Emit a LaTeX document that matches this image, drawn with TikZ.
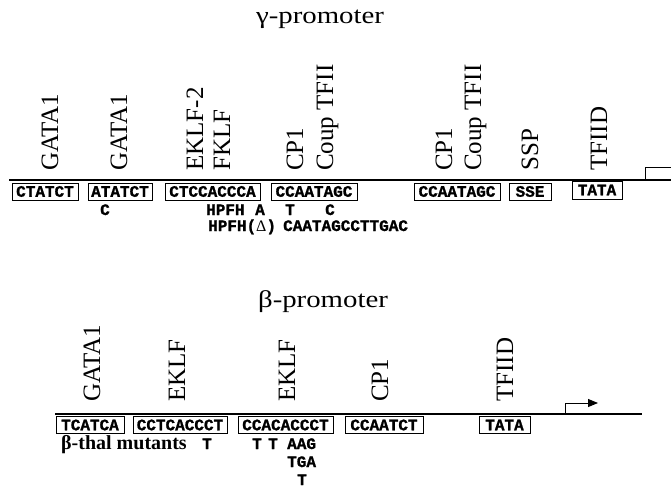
\documentclass[tikz,border=0pt]{standalone}
\usepackage{fontspec}
\setmainfont{Liberation Serif}
\setmonofont{Liberation Mono}[BoldFeatures={FakeBold=1.2}]
\usetikzlibrary{arrows.meta}

\begin{document}
\begin{tikzpicture}[x=1pt, y=-1pt,
    heading/.style={anchor=base, inner sep=0pt, font=\fontsize{24}{24}\selectfont},
    factor/.style={rotate=90, anchor=base west, inner sep=0pt, font=\fontsize{25}{25}\selectfont},
    seqbox/.style={draw, line width=0.8pt, inner sep=0pt, minimum height=17pt, font=\fontsize{16}{16}\selectfont\ttfamily\bfseries},
    mutant/.style={anchor=base west, inner sep=0pt, font=\fontsize{16}{16}\selectfont\ttfamily\bfseries},
    dna/.style={line width=2.5pt},
    tss/.style={line width=1pt}
]
\useasboundingbox (0,0) rectangle (671,489);

% gamma promoter
\node[heading] (g-title) at (320,24) {\scalebox{1.2}[1]{γ-promoter}};
\coordinate (g-start) at (9,180);
\coordinate (g-end) at (671,180);
\coordinate (g-tss) at (645,180);
\coordinate (g-tss-end) at (671,168);

% gamma factors
\node[factor] (g-gata1a) at (58,171) {GATA1};
\node[factor] (g-gata1b) at (127,171) {GATA1};
\node[factor] (g-eklf2) at (203,171) {EKLF-2};
\node[factor] (g-fklf) at (230,171) {FKLF};
\node[factor] (g-cp1a) at (303,171) {CP1};
\node[factor] (g-coupa) at (333,171) {Coup TFII};
\node[factor] (g-cp1b) at (452,171) {CP1};
\node[factor] (g-coupb) at (481,171) {Coup TFII};
\node[factor] (g-ssp) at (538,171) {SSP};
\node[factor] (g-tfiid) at (607,171) {TFIID};

% gamma sites
\node[seqbox, minimum width=66pt] (g-site1) at (45,191.5) {CTATCT};
\node[seqbox, minimum width=64pt] (g-site2) at (120,191.5) {ATATCT};
\node[seqbox, minimum width=95pt] (g-site3) at (212.5,191.5) {CTCCACCCA};
\node[seqbox, minimum width=86pt] (g-site4) at (314,191.5) {CCAATAGC};
\node[seqbox, minimum width=86pt] (g-site5) at (457,191.5) {CCAATAGC};
\node[seqbox, minimum width=42pt] (g-site6) at (530,191.5) {SSE};
\node[seqbox, minimum width=50pt, minimum height=18pt] (g-tata) at (597,190) {TATA};

% gamma mutants
\node[mutant] (g-mut1) at (100,215) {C};
\node[mutant] (g-mut2) at (206,215) {HPFH};
\node[mutant] (g-mut3) at (255,215) {A};
\node[mutant] (g-mut4) at (285,215) {T};
\node[mutant] (g-mut5) at (325,215) {C};
\node[mutant] (g-mut6) at (208,231) {HPFH({\rmfamily\mdseries Δ})};
\node[mutant] (g-mut7) at (283,231) {CAATAGCCTTGAC};

% beta promoter
\node[heading] (b-title) at (323,307) {\scalebox{1.2}[1]{β-promoter}};
\coordinate (b-start) at (55,414);
\coordinate (b-end) at (642,414);
\coordinate (b-tss) at (565,414);
\coordinate (b-tss-end) at (598,403);

% beta factors
\node[factor] (b-gata1) at (100,402) {GATA1};
\node[factor] (b-eklfa) at (185,402) {EKLF};
\node[factor] (b-eklfb) at (295,402) {EKLF};
\node[factor] (b-cp1) at (388,402) {CP1};
\node[factor] (b-tfiid) at (513,402) {TFIID};

% beta sites
\node[seqbox, minimum width=68pt] (b-site1) at (90,425) {TCATCA};
\node[seqbox, minimum width=94pt] (b-site2) at (180,425) {CCTCACCCT};
\node[seqbox, minimum width=95pt] (b-site3) at (285.5,425) {CCACACCCT};
\node[seqbox, minimum width=78pt] (b-site4) at (384,425) {CCAATCT};
\node[seqbox, minimum width=51pt] (b-tata) at (504.5,425) {TATA};

% beta mutants
\node[anchor=base west, inner sep=0pt, font=\fontsize{20}{20}\selectfont\bfseries] (b-thal) at (61,449) {β-thal mutants};
\node[mutant] (b-mut1) at (202,449) {T};
\node[mutant] (b-mut2) at (252,449) {T};
\node[mutant] (b-mut3) at (268,449) {T};
\node[mutant] (b-mut4) at (287,449) {AAG};
\node[mutant] (b-mut5) at (287,467) {TGA};
\node[mutant] (b-mut6) at (297,485) {T};

% Connections
\draw[dna] (g-start) -- (g-end);
\draw[tss] (g-tss) |- (g-tss-end);
\draw[dna] (b-start) -- (b-end);
\draw[tss, -{Triangle[length=10pt, width=8pt]}] (b-tss) |- (b-tss-end);

\end{tikzpicture}
\end{document}
